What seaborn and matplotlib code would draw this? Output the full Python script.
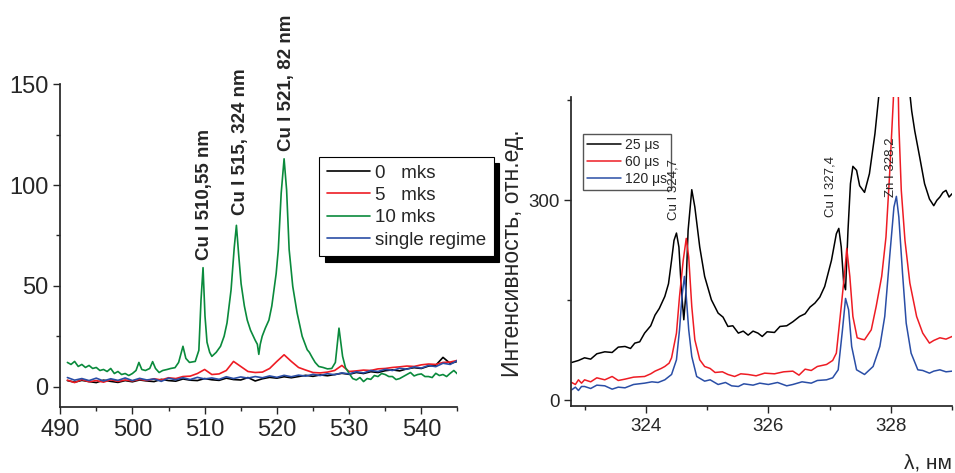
import seaborn as sns
import matplotlib.pyplot as plt
import matplotlib.ticker as mticker
import pandas as pd

# ---- left panel data (wavelength, nm / intensity) ----
base_x = list(range(491, 546))
black_0 = [3.0, 2.2, 3.1, 2.5, 2.0, 3.2, 2.6, 2.1, 3.0, 2.4, 3.3, 2.8, 2.5, 3.6, 3.0,
           2.7, 3.8, 3.2, 3.0, 4.0, 3.4, 3.1, 4.2, 3.5, 3.3, 4.5, 2.8, 3.9, 4.6, 4.2,
           4.9, 4.4, 5.0, 5.6, 5.1, 5.8, 5.4, 6.0, 6.6, 6.1, 7.0, 6.5, 7.4, 7.0, 7.9,
           8.3, 7.8, 8.8, 9.4, 9.0, 10.2, 10.6, 14.5, 11.5, 12.5]
red_5 = [3.2, 2.0, 3.5, 2.4, 3.0, 2.2, 3.4, 2.6, 3.3, 2.8, 3.6, 3.0, 3.9, 3.3, 4.4,
         4.0, 5.0, 5.2, 6.5, 8.5, 6.0, 6.3, 8.0, 12.5, 10.0, 7.5, 7.0, 7.2, 9.0, 12.5,
         15.8, 12.5, 9.5, 8.2, 7.0, 6.8, 7.2, 8.0, 10.5, 7.5, 7.8, 8.2, 8.0, 8.8, 9.0,
         9.5, 9.8, 10.2, 10.0, 10.8, 11.2, 11.0, 12.0, 12.2, 13.0]
blue_single = [4.5, 3.2, 4.0, 3.0, 4.2, 2.8, 3.9, 3.1, 4.3, 3.0, 4.1, 3.3, 3.8, 2.6, 4.2,
               3.4, 4.4, 3.5, 4.6, 3.8, 4.3, 3.6, 4.9, 4.0, 4.8, 4.2, 5.0, 4.4, 5.3, 4.6,
               5.6, 4.9, 5.7, 5.2, 6.1, 5.5, 6.4, 5.9, 6.8, 6.3, 7.4, 6.8, 8.0, 7.5, 8.6,
               8.0, 9.1, 8.6, 9.8, 9.2, 10.5, 9.9, 11.6, 11.0, 13.0]
green_x = [491, 491.5, 492, 492.5, 493, 493.5, 494, 494.5, 495, 495.5, 496, 496.5, 497,
           497.5, 498, 498.5, 499, 499.5, 500, 500.5, 500.9, 501.3, 501.8, 502.4, 502.8,
           503.2, 503.7, 504.2, 504.8, 505.3, 505.9, 506.4, 507.0, 507.4, 507.9, 508.7,
           509.2, 509.5, 509.78, 510.05, 510.33, 510.7, 511.0, 511.6, 512.2, 512.7, 513.1,
           513.66, 514.1, 514.4, 514.7, 515.05, 515.5, 515.9, 516.35, 517.0, 517.3, 517.5,
           517.7, 517.97, 518.4, 518.9, 519.3, 519.6, 519.9, 520.2, 520.6, 521.0, 521.35,
           521.7, 522.2, 522.8, 523.5, 524.2, 524.5, 524.9, 525.3, 525.8, 526.4, 527.0,
           527.6, 528.1, 528.6, 529.1, 529.5, 530, 530.5, 531, 531.5, 532, 532.5, 533,
           533.5, 534, 534.5, 535, 535.5, 536, 536.5, 537, 537.5, 538, 538.5, 539, 539.5,
           540, 540.5, 541, 541.5, 542, 542.5, 543, 543.5, 544, 544.5, 545]
green_10 = [12, 11, 12.5, 10, 11, 9.5, 10.5, 9, 9.5, 8, 8.5, 7.5, 9, 6.5, 7.5, 6, 6.5, 5.5,
            6.5, 8, 12, 8.5, 8, 9, 12.4, 9, 7, 8, 8.5, 9, 9.4, 12, 20, 14, 12, 12.5, 18,
            43, 59, 35, 22, 17, 15, 17, 20, 25, 31.6, 48, 69, 80, 66, 51, 40, 33, 28, 23,
            21, 16, 21, 25, 29, 33, 40, 48, 56, 68, 96, 113, 97.5, 68, 49.7, 36.6, 25,
            18.3, 17, 14.4, 12, 10, 9.5, 8.8, 9, 12, 29, 15, 9.4, 6.6, 4, 3.3, 4.5, 2.5,
            4, 3.6, 5.5, 5, 6.5, 6, 5, 5, 3.5, 4, 5, 6, 7, 5.3, 6, 6.3, 5, 5, 4.5, 6.6,
            5.5, 6, 5, 6.6, 8, 6.3]
left_labels = ["0   mks", "5   mks", "10 mks", "single regime"]
left_colors = ["black", "#ee1c24", "#0a8a3c", "#2a4ea6"]

# ---- right panel data (wavelength, nm / intensity, rel. units) ----
r_black_x = [322.79, 322.9, 323.0, 323.1, 323.2, 323.33, 323.45, 323.55, 323.66, 323.75,
             323.82, 323.9, 323.98, 324.08, 324.15, 324.22, 324.31, 324.37, 324.42, 324.46,
             324.5, 324.54, 324.58, 324.62, 324.65, 324.69, 324.75, 324.8, 324.88, 324.96,
             325.07, 325.18, 325.26, 325.34, 325.42, 325.51, 325.59, 325.67, 325.75,
             325.83, 325.9, 325.98, 326.1, 326.19, 326.3, 326.4, 326.51, 326.6, 326.68,
             326.76, 326.84, 326.92, 327.03, 327.11, 327.15, 327.19, 327.23, 327.26, 327.3,
             327.34, 327.38, 327.44, 327.49, 327.57, 327.65, 327.74, 327.8, 327.9, 328.05,
             328.2, 328.31, 328.34, 328.39, 328.47, 328.55, 328.63, 328.7, 328.75, 328.8,
             328.85, 328.9, 328.95, 329.0]
r_black = [57, 60, 64, 62, 70, 73, 72, 80, 81, 78, 86, 88, 101, 112, 128, 138, 156, 175,
           210, 240, 251, 230, 166, 121, 156, 255, 316, 290, 230, 186, 151, 131, 125, 111,
           112, 101, 104, 98, 104, 101, 96, 103, 102, 111, 112, 118, 126, 130, 140, 146,
           155, 171, 210, 250, 258, 230, 176, 166, 255, 325, 351, 345, 322, 312, 340, 400,
           454, 530, 600, 560, 460, 434, 404, 365, 325, 302, 292, 300, 305, 312, 315, 305,
           310]
r_red_x = [322.79, 322.85, 322.9, 322.95, 323.0, 323.1, 323.2, 323.33, 323.45, 323.55,
           323.66, 323.8, 323.98, 324.08, 324.15, 324.25, 324.31, 324.38, 324.42, 324.5,
           324.55, 324.61, 324.66, 324.7, 324.75, 324.8, 324.88, 324.96, 325.05, 325.13,
           325.25, 325.34, 325.45, 325.55, 325.67, 325.8, 325.94, 326.1, 326.25, 326.4,
           326.5, 326.6, 326.7, 326.8, 326.95, 327.05, 327.11, 327.19, 327.25, 327.28,
           327.33, 327.38, 327.45, 327.52, 327.57, 327.68, 327.76, 327.85, 327.92, 327.98,
           328.04, 328.07, 328.11, 328.13, 328.17, 328.23, 328.31, 328.42, 328.52, 328.63,
           328.7, 328.8, 328.9, 329.0]
r_red = [27, 24, 31, 26, 31, 28, 34, 31, 36, 30, 32, 35, 36, 40, 44, 48, 51, 56, 64, 101,
         156, 210, 243, 215, 141, 91, 61, 51, 48, 42, 43, 39, 36, 40, 39, 37, 41, 40, 43,
         44, 38, 47, 45, 51, 54, 60, 71, 141, 196, 228, 186, 126, 94, 92, 91, 106, 141,
         186, 245, 340, 450, 560, 520, 414, 315, 240, 176, 126, 101, 86, 90, 94, 92, 96]
r_blue_x = [322.79, 322.85, 322.9, 322.95, 323.0, 323.1, 323.2, 323.33, 323.45, 323.55,
            323.66, 323.8, 323.98, 324.1, 324.2, 324.31, 324.42, 324.5, 324.55, 324.59,
            324.63, 324.66, 324.7, 324.75, 324.83, 324.96, 325.05, 325.18, 325.3, 325.4,
            325.51, 325.6, 325.75, 325.86, 326.0, 326.15, 326.3, 326.4, 326.55, 326.7,
            326.8, 326.95, 327.05, 327.14, 327.21, 327.26, 327.31, 327.36, 327.44, 327.57,
            327.71, 327.82, 327.9, 327.98, 328.05, 328.09, 328.13, 328.19, 328.25, 328.33,
            328.44, 328.52, 328.63, 328.7, 328.8, 328.9, 329.0]
r_blue = [16, 20, 15, 21, 21, 18, 23, 22, 17, 20, 19, 24, 26, 28, 27, 31, 39, 61, 106, 156,
          186, 156, 106, 66, 36, 29, 31, 24, 27, 22, 21, 25, 23, 26, 24, 27, 22, 24, 28,
          26, 30, 31, 34, 46, 106, 153, 136, 81, 46, 39, 51, 81, 126, 215, 290, 306, 275,
          191, 116, 71, 46, 45, 41, 44, 46, 43, 44]
right_labels = ["25 μs", "60 μs", "120 μs"]
right_colors = ["black", "#ee1c24", "#2a4ea6"]

sns.set_theme(style="ticks")
plt.rcParams["font.family"] = ["Liberation Sans", "DejaVu Sans"]

left_df = pd.concat([
    pd.DataFrame({"x": base_x, "y": black_0, "s": left_labels[0]}),
    pd.DataFrame({"x": base_x, "y": red_5, "s": left_labels[1]}),
    pd.DataFrame({"x": green_x, "y": green_10, "s": left_labels[2]}),
    pd.DataFrame({"x": base_x, "y": blue_single, "s": left_labels[3]}),
])
right_df = pd.concat([
    pd.DataFrame({"x": r_black_x, "y": r_black, "s": right_labels[0]}),
    pd.DataFrame({"x": r_red_x, "y": r_red, "s": right_labels[1]}),
    pd.DataFrame({"x": r_blue_x, "y": r_blue, "s": right_labels[2]}),
])

fig = plt.figure(figsize=(9.55, 4.73), dpi=100)
ax1 = fig.add_axes([0.063, 0.140, 0.416, 0.682])
ax2 = fig.add_axes([0.598, 0.142, 0.399, 0.653])

# left spectrum
sns.lineplot(data=left_df, x="x", y="y", hue="s", palette=left_colors,
             estimator=None, sort=False, lw=1.2, ax=ax1)
ax1.set_xlim(490, 545)
ax1.set_ylim(-10, 150)
ax1.set_xticks([490, 500, 510, 520, 530, 540])
ax1.set_yticks([0, 50, 100, 150])
ax1.xaxis.set_minor_locator(mticker.MultipleLocator(5))
ax1.yaxis.set_minor_locator(mticker.FixedLocator([25, 75, 125]))
ax1.tick_params(labelsize=17, length=5, width=1, direction="out")
ax1.tick_params(which="minor", length=3, width=1)
ax1.set_xlabel("")
ax1.set_ylabel("")
leg1 = ax1.legend(loc="upper left", bbox_to_anchor=(319 / 955, 1 - 157 / 473),
                  bbox_transform=fig.transFigure, borderaxespad=0, fontsize=13.5,
                  handlelength=2.3, labelspacing=0.28, handletextpad=0.3,
                  fancybox=False, edgecolor="black", framealpha=1,
                  shadow={"color": "black", "alpha": 1, "ox": 4, "oy": -4})
leg1.get_frame().set_linewidth(0.8)
for text, x, y in [("Cu I 510,55 nm", 509.95, 63), ("Cu I 515, 324 nm", 514.95, 85),
                   ("Cu I 521, 82 nm", 521.4, 117)]:
    ax1.text(x, y, text, rotation=90, ha="center", va="bottom", fontsize=13.5,
             fontweight="bold", clip_on=False)

# right spectrum
sns.lineplot(data=right_df, x="x", y="y", hue="s", palette=right_colors,
             estimator=None, sort=False, lw=1.1, ax=ax2)
ax2.set_xlim(322.78, 329.0)
ax2.set_ylim(-8, 455)
ax2.set_xticks([324, 326, 328])
ax2.set_yticks([0, 300])
ax2.xaxis.set_minor_locator(mticker.FixedLocator([323, 325, 327, 329]))
ax2.yaxis.set_minor_locator(mticker.FixedLocator([150, 450]))
ax2.tick_params(labelsize=13.5, length=5, width=1, direction="out")
ax2.tick_params(which="minor", length=3, width=1)
ax2.set_xlabel("")
ax2.set_ylabel("")
leg2 = ax2.legend(loc="upper left", bbox_to_anchor=(583 / 955, 1 - 134 / 473),
                  bbox_transform=fig.transFigure, borderaxespad=0, fontsize=10,
                  handlelength=2.4, labelspacing=0.2, handletextpad=0.3,
                  borderpad=0.3, fancybox=False, edgecolor="#555555", framealpha=1)
leg2.get_frame().set_linewidth(1.0)
for text, x, y in [("Cu I 324,7", 324.45, 270), ("Cu I 327,4", 327.02, 275),
                   ("Zn I 328,2", 328.0, 305)]:
    ax2.text(x, y, text, rotation=90, ha="center", va="bottom", fontsize=9.5,
             clip_on=False, zorder=10)

for ax in (ax1, ax2):
    sns.despine(ax=ax)

fig.text(512 / 955, 1 - 253 / 473, "Интенсивность, отн.ед.", rotation=90,
         ha="center", va="center", fontsize=16.5)
fig.text(952 / 955, 1 - 463 / 473, "λ, нм", ha="right", va="center", fontsize=15)

fig.savefig("out.png", dpi=100)
